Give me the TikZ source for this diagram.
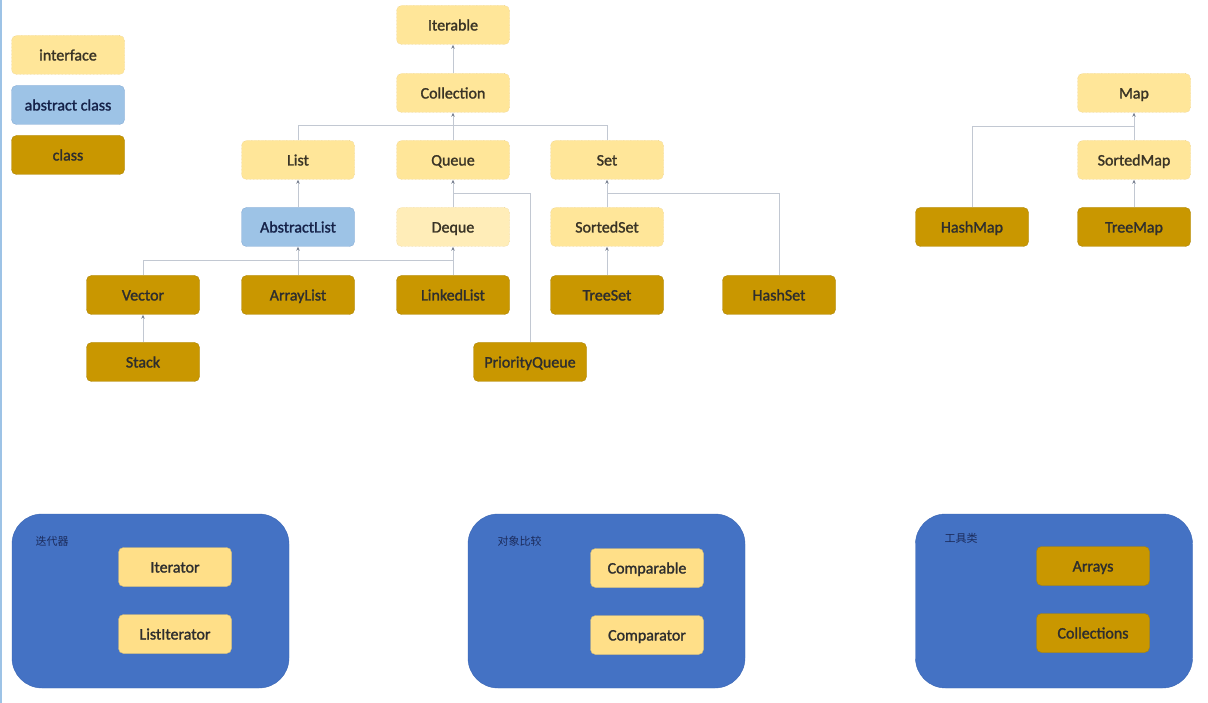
\documentclass[tikz,border=0pt]{standalone}
\usepackage{fontspec}
\setmainfont{Carlito}
\newfontfamily\boxfont{Carlito}[BoldFont={Carlito},BoldFeatures={FakeBold=1.5}]
\newfontfamily\cjk{Noto Sans CJK SC}
\usetikzlibrary{arrows.meta}

\definecolor{ifacefill}{HTML}{FFE699}
\definecolor{ifaceline}{HTML}{E2C26E}
\definecolor{ifacetext}{HTML}{3A3426}
\definecolor{absfill}{HTML}{9DC3E6}
\definecolor{absline}{HTML}{86ACD6}
\definecolor{clsfill}{HTML}{C99700}
\definecolor{clsline}{HTML}{AD8300}
\definecolor{grpfill}{HTML}{4472C4}
\definecolor{grpline}{HTML}{3A66B4}
\definecolor{toolfill}{HTML}{FFDF88}
\definecolor{linkgray}{HTML}{C2C8D2}
\definecolor{tipgray}{HTML}{7A8292}
\definecolor{navy}{HTML}{1C2C5C}

\begin{document}
\begin{tikzpicture}[x=1pt,y=-1pt,
  box/.style={rounded corners=5pt, minimum width=113pt, minimum height=39pt,
    inner sep=0pt, text height=12pt, text depth=1pt,
    font=\boxfont\bfseries\fontsize{16}{19}\selectfont},
  iface/.style={box, fill=ifacefill, draw=ifaceline, densely dotted, text=ifacetext},
  absclass/.style={box, fill=absfill, draw=absline, text=navy!80!black},
  cls/.style={box, fill=clsfill, draw=clsline, text=black!82},
  tool/.style={box, fill=toolfill, draw=toolfill!85!black, text=black!82},
  group/.style={rounded corners=30pt, fill=grpfill, draw=grpline,
    minimum width=277pt, minimum height=174pt},
  grouplabel/.style={anchor=west, text=navy, font=\cjk\fontsize{11}{13}\selectfont},
  line/.style={draw=linkgray, line width=1pt},
  link/.style={line, -{Stealth[length=4pt,width=3.5pt,color=tipgray]}},
]
\useasboundingbox[fill=white] (0,0) rectangle (1208,703);
\draw[absfill, line width=1.5pt] (0.75,0) -- (0.75,703);

% legend
\node[iface] (legIface) at (68,55) {interface};
\node[absclass] (legAbs) at (68,105) {abstract class};
\node[cls] (legCls) at (68,155) {class};

% Collection tree
\node[iface] (Iterable) at (453,25) {Iterable};
\node[iface] (Collection) at (453,93) {Collection};
\node[iface] (List) at (298,160) {List};
\node[iface] (Queue) at (453,160) {Queue};
\node[iface] (Set) at (607,160) {Set};
\node[absclass] (AbstractList) at (298,227) {AbstractList};
\node[iface, fill=ifacefill!70] (Deque) at (453,227) {Deque};
\node[iface] (SortedSet) at (607,227) {SortedSet};
\node[cls] (Vector) at (143,295) {Vector};
\node[cls] (ArrayList) at (298,295) {ArrayList};
\node[cls] (LinkedList) at (453,295) {LinkedList};
\node[cls] (TreeSet) at (607,295) {TreeSet};
\node[cls] (HashSet) at (779,295) {HashSet};
\node[cls] (Stack) at (143,362) {Stack};
\node[cls] (PriorityQueue) at (530,362) {PriorityQueue};

% Map tree
\node[iface] (Map) at (1134,93) {Map};
\node[iface] (SortedMap) at (1134,160) {SortedMap};
\node[cls] (HashMap) at (972,227) {HashMap};
\node[cls] (TreeMap) at (1134,227) {TreeMap};

% connectors
\coordinate (colBus) at (453,126);
\coordinate (queueBus) at (453,194);
\coordinate (listBus) at (298,261);
\coordinate (setBus) at (607,194);
\coordinate (mapBus) at (1134,127);
\draw[link] (Collection) -- (Iterable);
\draw[line] (List.north) |- (colBus);
\draw[line] (Set.north) |- (colBus);
\draw[link] (Queue) -- (Collection);
\draw[link] (AbstractList) -- (List);
\draw[link] (Deque) -- (Queue);
\draw[line] (PriorityQueue.north) |- (queueBus);
\draw[link] (SortedSet) -- (Set);
\draw[line] (HashSet.north) |- (setBus);
\draw[link] (TreeSet) -- (SortedSet);
\draw[line] (Vector.north) |- (listBus);
\draw[line] (LinkedList.north) |- (listBus);
\draw[link] (ArrayList) -- (AbstractList);
\draw[link] (LinkedList) -- (Deque);
\draw[link] (Stack) -- (Vector);
\draw[link] (SortedMap) -- (Map);
\draw[line] (HashMap.north) |- (mapBus);
\draw[link] (TreeMap) -- (SortedMap);

% bottom groups
\node[group] (iterGroup) at (150.5,601) {};
\node[grouplabel] (iterLabel) at (32,541) {迭代器};
\node[tool] (Iterator) at (175,567) {Iterator};
\node[tool] (ListIterator) at (175,634) {ListIterator};

\node[group] (cmpGroup) at (606.5,601) {};
\node[grouplabel] (cmpLabel) at (494,541) {对象比较};
\node[tool] (Comparable) at (647,568) {Comparable};
\node[tool] (Comparator) at (647,635) {Comparator};

\node[group] (utilGroup) at (1054,601) {};
\node[grouplabel] (utilLabel) at (941,538) {工具类};
\node[cls] (Arrays) at (1093,566) {Arrays};
\node[cls] (Collections) at (1093,633) {Collections};
\end{tikzpicture}
\end{document}
